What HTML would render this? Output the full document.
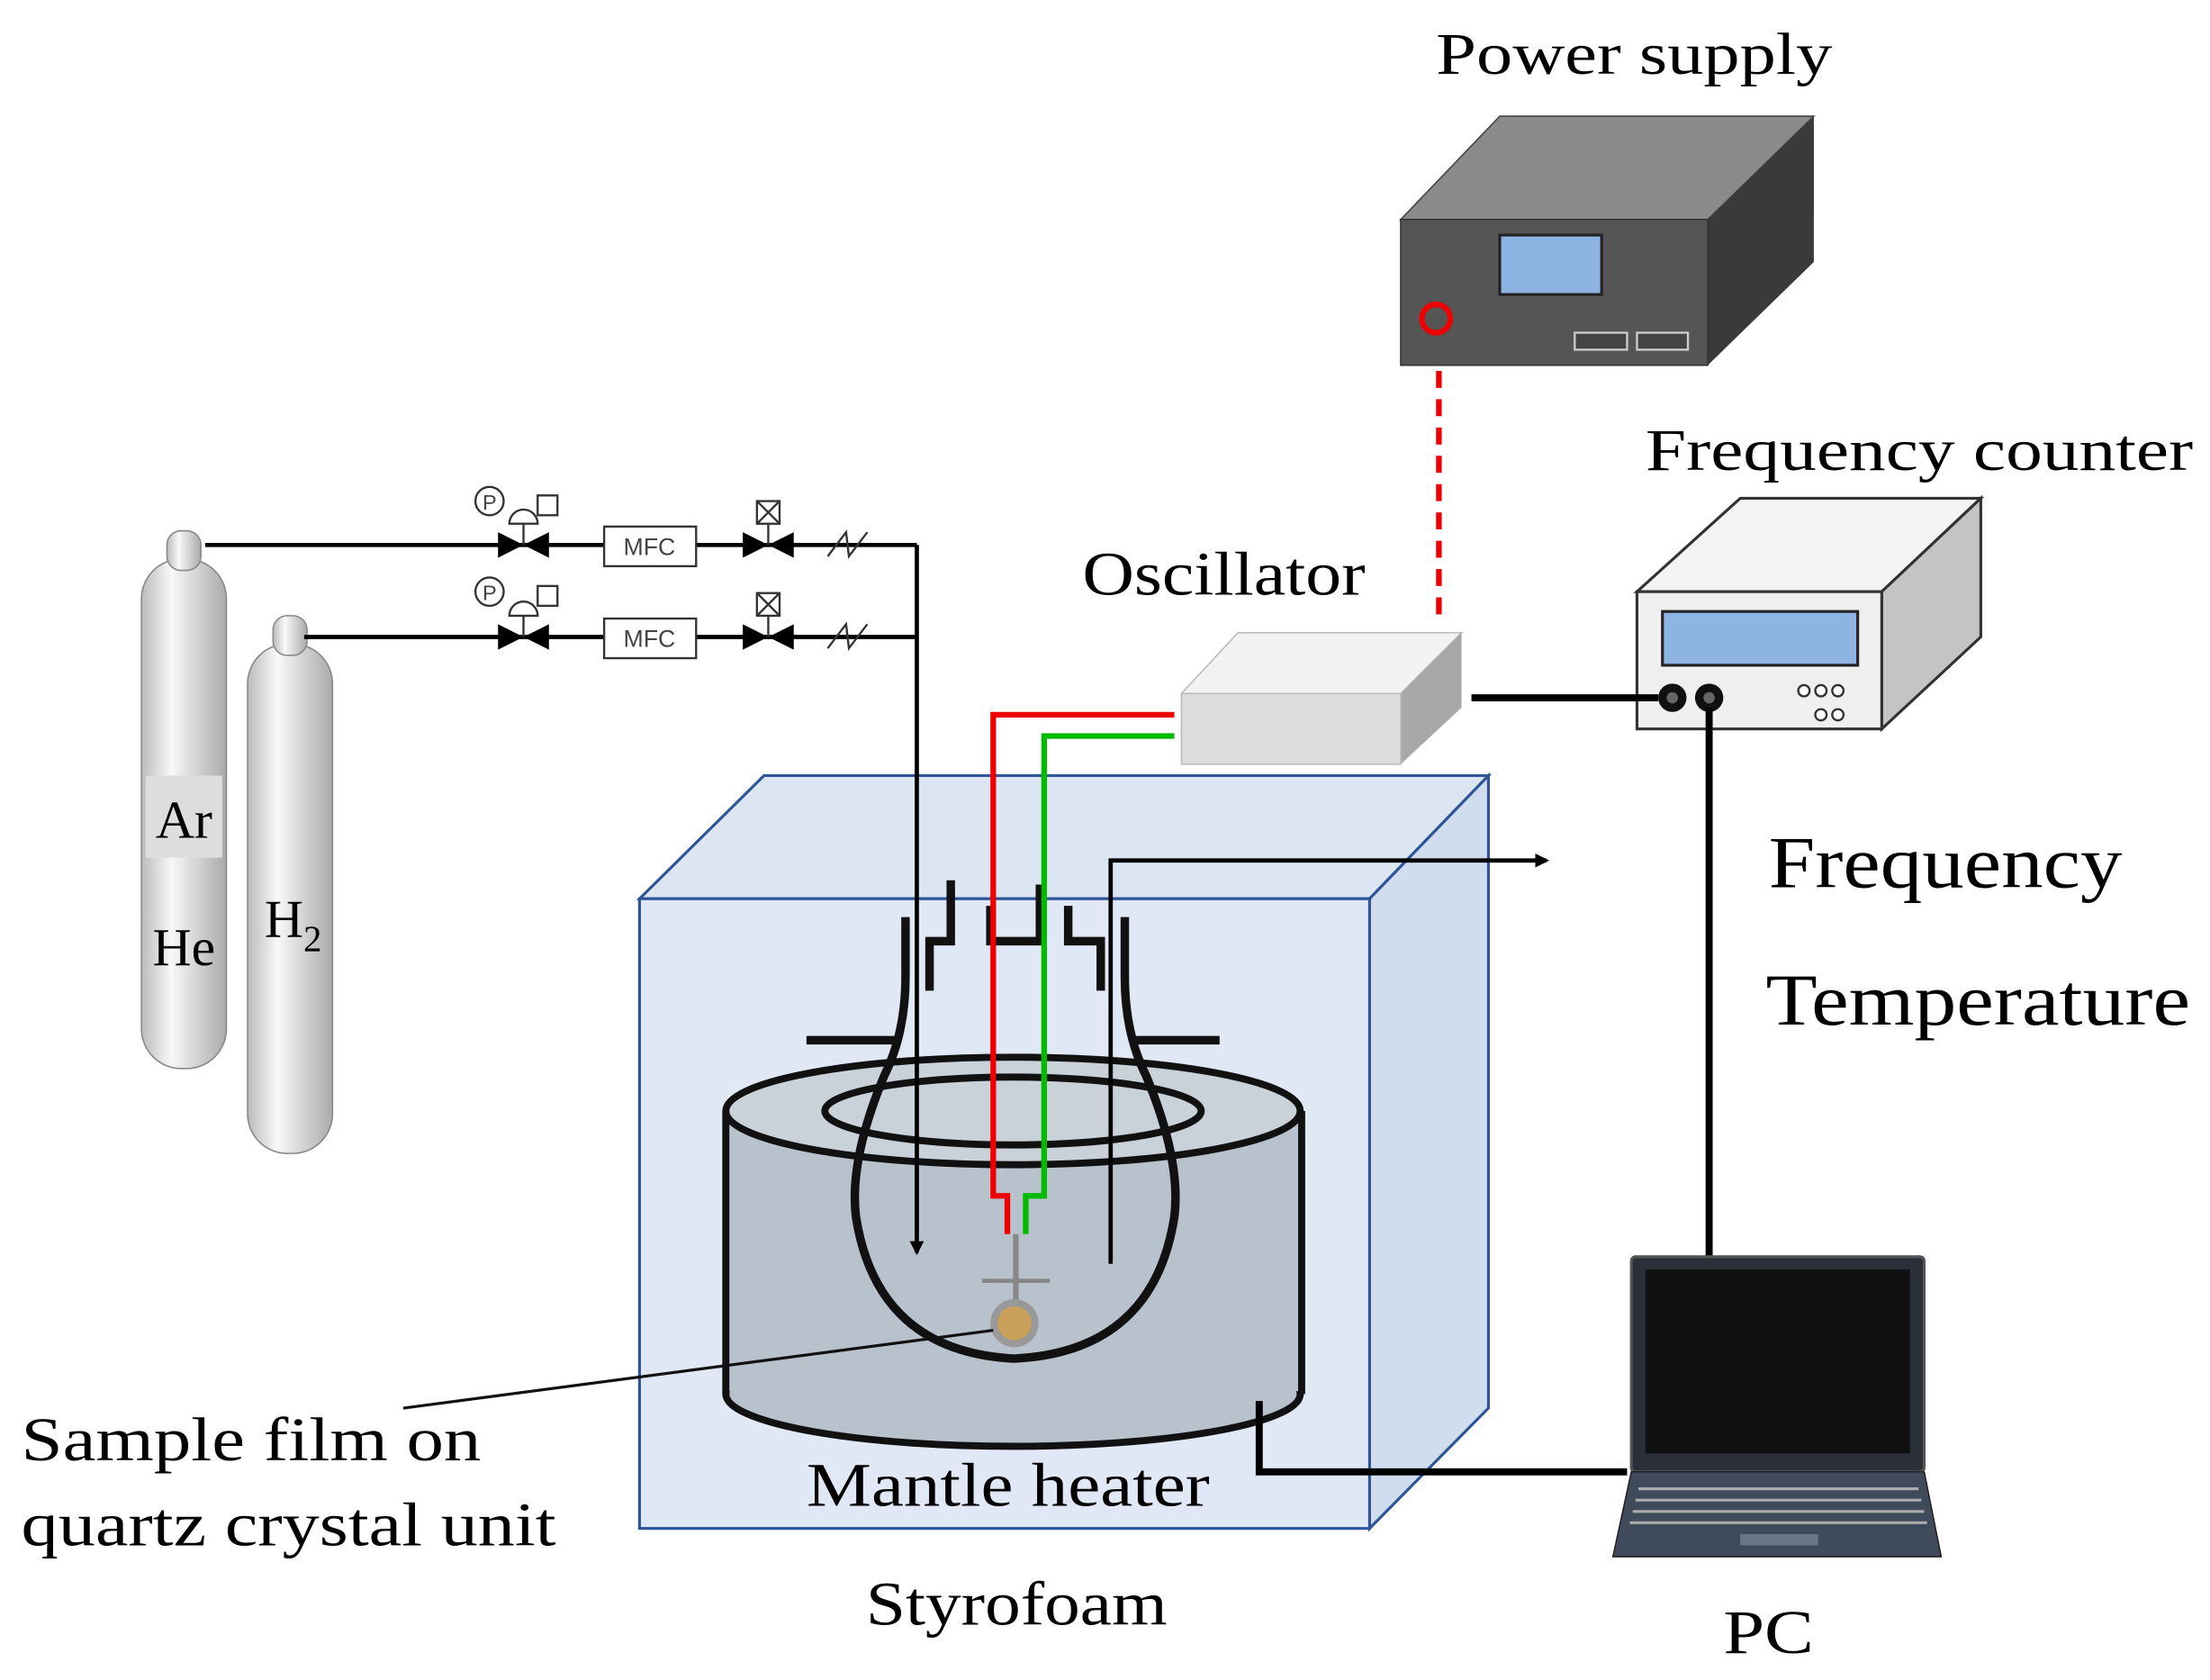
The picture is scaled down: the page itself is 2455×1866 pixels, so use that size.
<!DOCTYPE html>
<html><head><meta charset="utf-8"><style>html,body{margin:0;padding:0;background:#fff}svg{display:block}</style></head>
<body>
<svg width="2455" height="1866" viewBox="0 0 1562 1187" xmlns="http://www.w3.org/2000/svg" font-family="Liberation Serif, serif">
<rect width="1562" height="1187" fill="#fff"/>
<defs>
<linearGradient id="cyl" x1="0" x2="1"><stop offset="0" stop-color="#bbb"/><stop offset="0.35" stop-color="#f8f8f8"/><stop offset="1" stop-color="#aaa"/></linearGradient>
<marker id="ah" markerWidth="10" markerHeight="10" refX="8" refY="5" orient="auto" markerUnits="userSpaceOnUse"><path d="M0,0 L10,5 L0,10 z" fill="#000"/></marker>
</defs>

<text x="1015" y="52" font-size="42" textLength="280" lengthAdjust="spacingAndGlyphs">Power supply</text>
<polygon points="990,155 1060,82 1282,82 1207,155" fill="#8a8a8a" stroke="#444"/>
<polygon points="1207,155 1282,82 1282,185 1207,258" fill="#3a3a3a"/>
<rect x="990" y="155" width="217" height="103" fill="#555" stroke="#333"/>
<rect x="1060" y="166" width="72" height="42" fill="#8eb4e3" stroke="#222" stroke-width="2"/>
<circle cx="1015" cy="225" r="10" fill="none" stroke="#e00" stroke-width="4"/>
<rect x="1113" y="235" width="37" height="12" fill="#444" stroke="#ccc" stroke-width="1.5"/>
<rect x="1157" y="235" width="36" height="12" fill="#444" stroke="#ccc" stroke-width="1.5"/>
<line x1="1017" y1="262" x2="1017" y2="440" stroke="#e00" stroke-width="4" stroke-dasharray="12,8"/>

<text x="1163" y="332" font-size="42" textLength="387" lengthAdjust="spacingAndGlyphs">Frequency counter</text>
<polygon points="1157,418 1230,352 1400,352 1330,418" fill="#f4f4f4" stroke="#333" stroke-width="2"/>
<polygon points="1330,418 1400,352 1400,450 1330,515" fill="#c4c4c4" stroke="#333" stroke-width="2"/>
<rect x="1157" y="418" width="173" height="97" fill="#efefef" stroke="#333" stroke-width="2"/>
<rect x="1175" y="432" width="138" height="38" fill="#8eb4e3" stroke="#222" stroke-width="2"/>
<circle cx="1182" cy="493" r="10" fill="#111"/><circle cx="1182" cy="493" r="4" fill="#666"/>
<circle cx="1208" cy="493" r="10" fill="#111"/><circle cx="1208" cy="493" r="4" fill="#666"/>
<g fill="#fff" stroke="#333" stroke-width="1.5"><circle cx="1275" cy="488" r="4"/><circle cx="1287" cy="488" r="4"/><circle cx="1299" cy="488" r="4"/><circle cx="1287" cy="505" r="4"/><circle cx="1299" cy="505" r="4"/></g>

<text x="765" y="420" font-size="44" textLength="200" lengthAdjust="spacingAndGlyphs">Oscillator</text>
<polygon points="835,490 875,447 1033,447 990,490" fill="#f2f2f2" stroke="#bbb"/>
<polygon points="990,490 1033,447 1033,500 990,540" fill="#a8a8a8"/>
<rect x="835" y="490" width="155" height="50" fill="#dcdcdc" stroke="#bbb"/>
<line x1="1040" y1="493" x2="1172" y2="493" stroke="#000" stroke-width="5"/>
<line x1="1208" y1="500" x2="1208" y2="888" stroke="#000" stroke-width="5"/>

<polygon points="452,635 540,548 1052,548 968,635" fill="#dce6f3" stroke="#2f5597" stroke-width="2"/>
<polygon points="968,635 1052,548 1052,995 968,1080" fill="#d0ddef" stroke="#2f5597" stroke-width="2"/>
<rect x="452" y="635" width="516" height="445" fill="#dfe8f4" stroke="#2f5597" stroke-width="2"/>

<rect x="513" y="785" width="407" height="200" fill="#b8c2cc"/>
<ellipse cx="716" cy="985" rx="203" ry="37" fill="#b8c2cc" stroke="#111" stroke-width="5"/>
<rect x="515" y="785" width="403" height="198" fill="#b8c2cc"/>
<line x1="513" y1="785" x2="513" y2="985" stroke="#111" stroke-width="5"/>
<line x1="920" y1="785" x2="920" y2="985" stroke="#111" stroke-width="5"/>
<ellipse cx="716" cy="785" rx="203" ry="38" fill="#c9d1d9" stroke="#111" stroke-width="5"/>
<ellipse cx="716" cy="785" rx="133" ry="24" fill="#c9d1d9" stroke="#111" stroke-width="5"/>

<g fill="none" stroke="#111" stroke-width="6">
<path d="M640,648 L640,690 Q640,730 625,760 Q600,820 605,860 Q620,955 717,960 Q815,955 830,860 Q835,820 810,760 Q795,730 795,690 L795,648"/>
<line x1="570" y1="735" x2="632" y2="735"/>
<line x1="803" y1="735" x2="862" y2="735"/>
<path d="M657,700 L657,665 L672,665 L672,622"/>
<path d="M700,640 L700,665 L735,665 L735,625"/>
<path d="M755,640 L755,665 L778,665 L778,700"/>
</g>

<line x1="648" y1="385" x2="648" y2="885" stroke="#000" stroke-width="3" marker-end="url(#ah)"/>
<path d="M785,893 L785,608 L1093,608" fill="none" stroke="#000" stroke-width="3" marker-end="url(#ah)"/>

<path d="M830,505 L702,505 L702,845 L712,845 L712,872" fill="none" stroke="#e00" stroke-width="4"/>
<path d="M830,520 L738,520 L738,845 L725,845 L725,872" fill="none" stroke="#0b0" stroke-width="4"/>

<line x1="718" y1="872" x2="718" y2="922" stroke="#888" stroke-width="4"/>
<line x1="694" y1="905" x2="742" y2="905" stroke="#888" stroke-width="3"/>
<circle cx="717" cy="935" r="17" fill="#999"/>
<circle cx="717" cy="935" r="12" fill="#c9a05a"/>
<line x1="285" y1="995" x2="702" y2="940" stroke="#111" stroke-width="2"/>

<path d="M890,990 L890,1040 L1150,1040" fill="none" stroke="#000" stroke-width="5"/>

<rect x="1153" y="888" width="207" height="152" rx="3" fill="#2a2f38" stroke="#555" stroke-width="2"/>
<rect x="1163" y="897" width="187" height="130" fill="#111"/>
<polygon points="1153,1040 1360,1040 1372,1100 1140,1100" fill="#3f4a5a" stroke="#222"/>
<g stroke="#aaa" stroke-width="2">
<line x1="1158" y1="1052" x2="1356" y2="1052"/><line x1="1156" y1="1060" x2="1358" y2="1060"/>
<line x1="1154" y1="1068" x2="1360" y2="1068"/><line x1="1152" y1="1076" x2="1362" y2="1076"/>
</g>
<rect x="1230" y="1084" width="55" height="8" fill="#6a7585"/>

<rect x="100" y="395" width="60" height="360" rx="28" fill="url(#cyl)" stroke="#888"/>
<rect x="118" y="375" width="24" height="28" rx="10" fill="url(#cyl)" stroke="#888"/>
<rect x="103" y="548" width="54" height="58" fill="#ddd"/>
<text x="130" y="592" font-size="38" text-anchor="middle">Ar</text>
<text x="130" y="682" font-size="38" text-anchor="middle">He</text>
<rect x="175" y="455" width="60" height="360" rx="28" fill="url(#cyl)" stroke="#888"/>
<rect x="193" y="435" width="24" height="28" rx="10" fill="url(#cyl)" stroke="#888"/>
<text x="187" y="662" font-size="38">H<tspan font-size="26" dy="10">2</tspan></text>

<g stroke="#000" stroke-width="3" fill="none">
<line x1="145" y1="385" x2="648" y2="385"/>
<line x1="215" y1="450" x2="648" y2="450"/>
</g>
<g fill="#000">
<polygon points="352,376 370,385 352,394"/><polygon points="388,376 370,385 388,394"/>
<polygon points="352,441 370,450 352,459"/><polygon points="388,441 370,450 388,459"/>
<polygon points="525,376 543,385 525,394"/><polygon points="561,376 543,385 561,394"/>
<polygon points="525,441 543,450 525,459"/><polygon points="561,441 543,450 561,459"/>
</g>
<g fill="#fff" stroke="#333" stroke-width="1.5">
<circle cx="346" cy="354" r="10"/><circle cx="346" cy="418" r="10"/>
<path d="M360,370 A10,10 0 0 1 380,370 Z"/><path d="M360,435 A10,10 0 0 1 380,435 Z"/>
<rect x="380" y="350" width="14" height="14"/><rect x="380" y="414" width="14" height="14"/>
<rect x="535" y="354" width="16" height="16"/><rect x="535" y="419" width="16" height="16"/>
<rect x="427" y="372" width="65" height="28"/><rect x="427" y="437" width="65" height="28"/>
</g>
<g stroke="#333" stroke-width="1.5"><line x1="370" y1="370" x2="370" y2="385"/><line x1="370" y1="435" x2="370" y2="450"/>
<line x1="535" y1="354" x2="551" y2="370"/><line x1="551" y1="354" x2="535" y2="370"/><line x1="543" y1="370" x2="543" y2="385"/>
<line x1="535" y1="419" x2="551" y2="435"/><line x1="551" y1="419" x2="535" y2="435"/><line x1="543" y1="435" x2="543" y2="450"/>
<path d="M585,393 L598,376 L600,393 L613,376" fill="none"/><path d="M585,458 L598,441 L600,458 L613,441" fill="none"/></g>
<g font-family="Liberation Sans, sans-serif" font-size="17" fill="#444" text-anchor="middle">
<text x="346" y="360" font-size="15">P</text><text x="346" y="424" font-size="15">P</text>
<text x="459" y="392">MFC</text><text x="459" y="457">MFC</text></g>

<text x="1250" y="627" font-size="52" textLength="250" lengthAdjust="spacingAndGlyphs">Frequency</text>
<text x="1248" y="724" font-size="52" textLength="300" lengthAdjust="spacingAndGlyphs">Temperature</text>
<text x="15" y="1032" font-size="44" textLength="325" lengthAdjust="spacingAndGlyphs">Sample film on</text>
<text x="15" y="1092" font-size="44" textLength="378" lengthAdjust="spacingAndGlyphs">quartz crystal unit</text>
<text x="570" y="1064" font-size="44" textLength="285" lengthAdjust="spacingAndGlyphs">Mantle heater</text>
<text x="612" y="1148" font-size="44" textLength="213" lengthAdjust="spacingAndGlyphs">Styrofoam</text>
<text x="1218" y="1168" font-size="44" textLength="64" lengthAdjust="spacingAndGlyphs">PC</text>
</svg>
</body></html>
